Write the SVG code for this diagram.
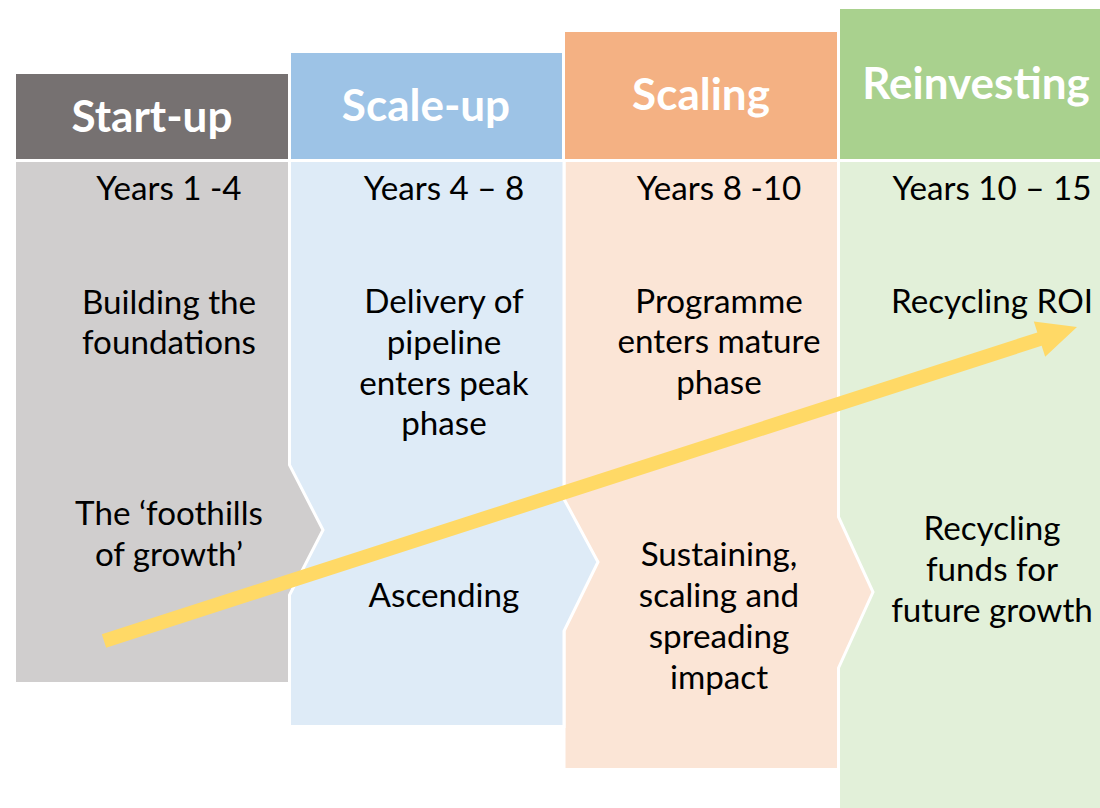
<svg xmlns="http://www.w3.org/2000/svg" width="1100" height="808" viewBox="0 0 1100 808">
<style>
.hdr{font-family:Lato,"Liberation Sans",sans-serif;font-weight:bold;font-size:44px;fill:#ffffff;text-anchor:middle}
.txt{font-family:Lato,"Liberation Sans",sans-serif;font-size:33.2px;fill:#000000;text-anchor:middle}
.body{stroke:#ffffff;stroke-width:3}
</style>
<rect width="1100" height="808" fill="#ffffff"/>
<g id="reinvesting">
<rect x="840" y="9" width="262" height="150" fill="#A9D18E"/>
<polygon class="body" fill="#E2F0D9" points="838.5,160.5 1103,160.5 1103,810 838.5,810"/>
<text class="hdr" x="976" y="99">Reinvesting</text>
<text class="txt" x="992" y="200">Years 10 – 15</text>
<text class="txt" x="992" y="313">Recycling ROI</text>
<text class="txt" x="992" y="540">Recycling</text>
<text class="txt" x="992" y="581">funds for</text>
<text class="txt" x="992" y="622">future growth</text>
</g>
<g id="scaling">
<rect x="565" y="32" width="272" height="127" fill="#F4B183"/>
<polygon class="body" fill="#FBE5D6" points="564,160.5 838.5,160.5 838.5,517 873,592 838.5,668 838.5,769.5 564,769.5"/>
<text class="hdr" x="701" y="110">Scaling</text>
<text class="txt" x="719" y="200">Years 8 -10</text>
<text class="txt" x="719" y="313">Programme</text>
<text class="txt" x="719" y="353">enters mature</text>
<text class="txt" x="719" y="394">phase</text>
<text class="txt" x="719" y="566">Sustaining,</text>
<text class="txt" x="719" y="607">scaling and</text>
<text class="txt" x="719" y="648">spreading</text>
<text class="txt" x="719" y="689">impact</text>
</g>
<g id="scale-up">
<rect x="291" y="53" width="271" height="106" fill="#9DC3E6"/>
<polygon class="body" fill="#DEEBF7" points="289.5,160.5 564,160.5 564,499 598,562 564,631 564,726.5 289.5,726.5"/>
<text class="hdr" x="426" y="121">Scale-up</text>
<text class="txt" x="444" y="200">Years 4 – 8</text>
<text class="txt" x="444" y="313">Delivery of</text>
<text class="txt" x="444" y="354">pipeline</text>
<text class="txt" x="444" y="395">enters peak</text>
<text class="txt" x="444" y="435">phase</text>
<text class="txt" x="444" y="607">Ascending</text>
</g>
<g id="start-up">
<rect x="16" y="74" width="272" height="85" fill="#767171"/>
<polygon class="body" fill="#D0CECE" points="14.5,160.5 289.5,160.5 289.5,465 323,530 289.5,595 289.5,683.5 14.5,683.5"/>
<text class="hdr" x="152" y="132">Start-up</text>
<text class="txt" x="169" y="200">Years 1 -4</text>
<text class="txt" x="169" y="314">Building the</text>
<text class="txt" x="169" y="354">foundations</text>
<text class="txt" x="169" y="525">The ‘foothills</text>
<text class="txt" x="169" y="566">of growth’</text>
</g>
<g id="connectors">
<polygon fill="#FFD966" transform="translate(104,641) rotate(-17.885)" points="0,-7 983,-7 983,-18.5 1022.4,0 983,18.5 983,7 0,7"/>
</g>
</svg>
